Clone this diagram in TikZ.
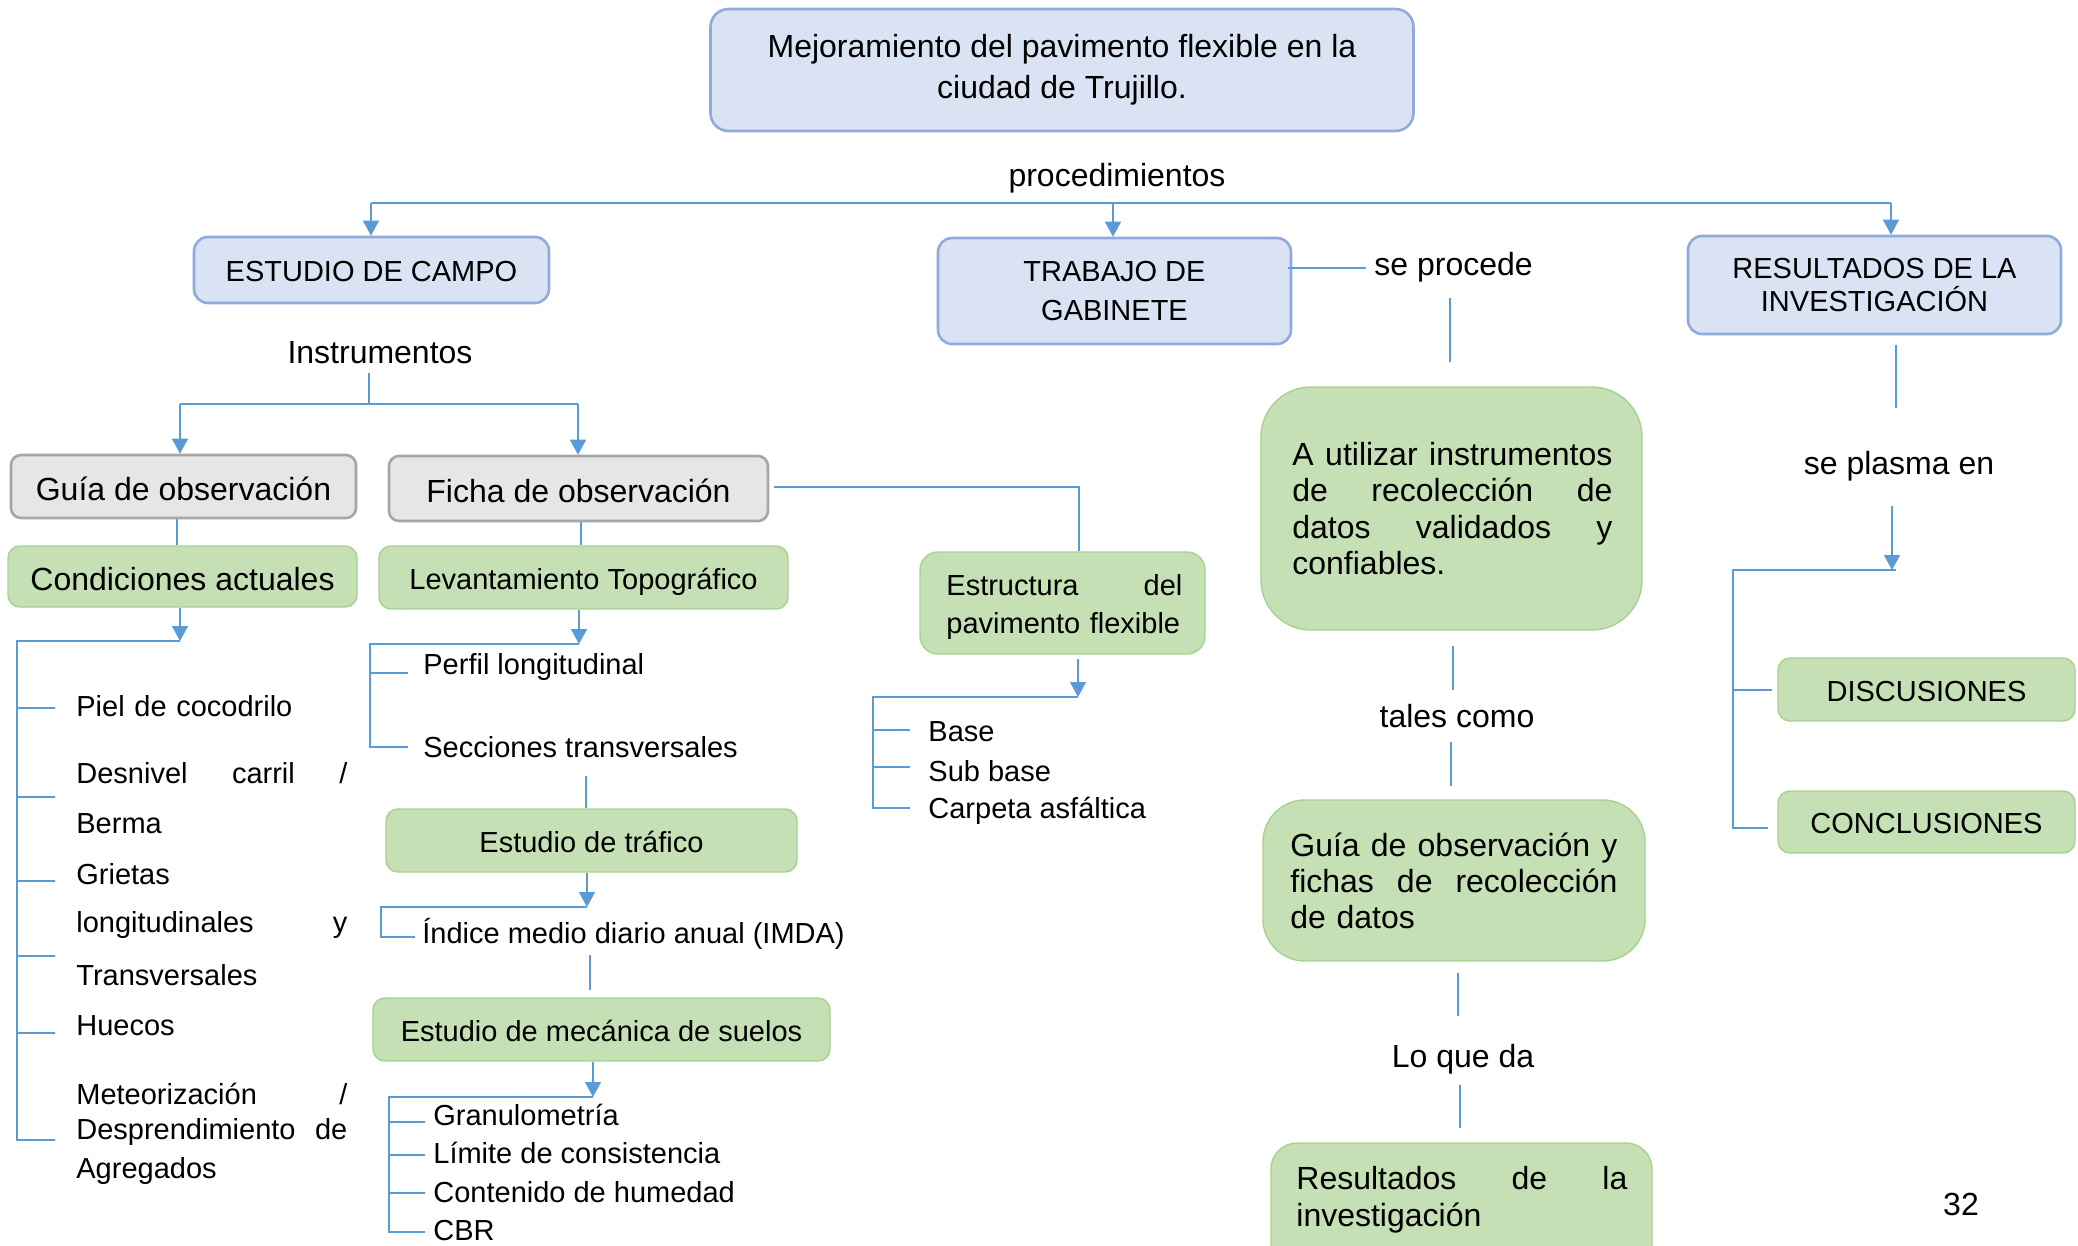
\documentclass[tikz,border=0pt]{standalone}
\usepackage{fontspec}
\setmainfont{Liberation Sans}
\usetikzlibrary{arrows.meta}
\definecolor{lnblue}{HTML}{5B9BD5}
\definecolor{bfill}{HTML}{DAE3F3}
\definecolor{bdraw}{HTML}{8FAADC}
\definecolor{gfill}{HTML}{E7E6E6}
\definecolor{gdraw}{HTML}{A6A6A6}
\definecolor{grfill}{HTML}{C5E0B4}
\definecolor{grdraw}{HTML}{A9D18E}
\newcommand{\fbig}{\fontsize{16}{18.25}\selectfont}
\newcommand{\fsml}{\fontsize{14.5}{17}\selectfont}
\begin{document}
\begin{tikzpicture}[x=0.5pt,y=-0.5pt,
  bbox/.style={draw=bdraw,fill=bfill,line width=1.3pt,rounded corners=7pt,inner sep=0pt},
  gbox/.style={draw=gdraw,fill=gfill,line width=1.3pt,rounded corners=5pt,inner sep=0pt},
  grbox/.style={draw=grdraw,fill=grfill,line width=0.7pt,rounded corners=6pt,inner sep=0pt},
  oneb/.style={font=\fbig,text height=13.5pt,text depth=0pt},
  ones/.style={font=\fsml,text height=11.5pt,text depth=0pt},
  conn/.style={draw=lnblue,line width=0.75pt},
  arr/.style={conn,-{Triangle[width=8pt,length=7.5pt]}},
  lbl/.style={font=\fbig,inner sep=0pt,yshift=-1.2pt},
  itm/.style={font=\fsml,inner sep=0pt,anchor=west,yshift=-0.5pt},
  lst/.style={font=\fsml,inner sep=0pt,anchor=west,text width=135.5pt,align=left},
  jb/.style={inner sep=0pt,anchor=base west,align=left}]
\fill[white] (0,0) rectangle (2078,1246);
\useasboundingbox (0,0) rectangle (2078,1246);

% ---------- top ----------
\node[bbox,rounded corners=9pt,minimum width=351.5pt,minimum height=61pt,align=center,font={\fontsize{16}{20.5}\selectfont}] (top) at (1062,70) {Mejoramiento del pavimento flexible en la\\ciudad de Trujillo.};
\node[lbl] (proc) at (1117,176) {procedimientos};
\node[bbox,ones,minimum width=177.5pt,minimum height=33pt] (ec) at (371.5,270) {ESTUDIO DE CAMPO};
\node[bbox,minimum width=176.5pt,minimum height=53pt,align=center,font={\fontsize{14.5}{19.5}\selectfont}] (tg) at (1114.5,291) {TRABAJO DE\\GABINETE};
\node[bbox,minimum width=186.5pt,minimum height=49pt,align=center,font={\fontsize{14.5}{16.5}\selectfont}] (ri) at (1874.5,285) {RESULTADOS DE LA\\INVESTIGACIÓN};

\coordinate (h1) at (371,203);
\coordinate (h2) at (1113,203);
\coordinate (h3) at (1891,203);
\draw[conn] (h1) -- (h3);
\draw[arr] (h1) -- (h1 |- ec.north);
\draw[arr] (h2) -- (h2 |- tg.north);
\draw[arr] (h3) -- (h3 |- ri.north);

% ---------- trabajo de gabinete branch ----------
\node[lbl,anchor=west] (sp) at (1374,265) {se procede};
\coordinate (sp1) at (1288,268);
\draw[conn,shorten >=4pt] (sp1) -- (sp1 -| sp.west);
\coordinate (v1a) at (1450,298); \coordinate (v1b) at (1450,362);
\draw[conn] (v1a) -- (v1b);
\node[grbox,rounded corners=25pt,minimum width=190.5pt,minimum height=121.5pt] (au) at (1451.5,508.5) {};
\node[jb,text width=160pt,font={\fontsize{16}{18.25}\selectfont}] (aut) at (1292,465) {A\hfill utilizar\hfill instrumentos\\de\hfill recolección\hfill de\\datos\hfill validados\hfill y\\confiables.};
\coordinate (v2a) at (1453,646); \coordinate (v2b) at (1453,690);
\draw[conn] (v2a) -- (v2b);
\node[lbl] (tc) at (1457,714) {tales como};
\coordinate (v3a) at (1451,742); \coordinate (v3b) at (1451,786);
\draw[conn] (v3a) -- (v3b);
\node[grbox,rounded corners=21pt,minimum width=191pt,minimum height=80.5pt] (gr) at (1454,880.5) {};
\node[jb,text width=163.5pt,font={\fontsize{16}{18}\selectfont}] (grt) at (1290,856) {Guía\hfill de\hfill observación\hfill y\\fichas\hfill de\hfill recolección\\de datos};
\coordinate (v4a) at (1458,973); \coordinate (v4b) at (1458,1016);
\draw[conn] (v4a) -- (v4b);
\node[lbl] (lq) at (1463,1057) {Lo que da};
\coordinate (v5a) at (1460,1085); \coordinate (v5b) at (1460,1128);
\draw[conn] (v5a) -- (v5b);
\node[grbox,rounded corners=13pt,minimum width=190.5pt,minimum height=65pt] (rs) at (1461.5,1208) {};
\node[jb,text width=165.5pt,font={\fontsize{16}{18.5}\selectfont}] (rst) at (1296,1189) {Resultados\hfill de\hfill la\\investigación};
\node[lbl] (pg) at (1961,1202) {32};

% ---------- resultados branch ----------
\coordinate (v6a) at (1896,345); \coordinate (v6b) at (1896,408);
\draw[conn] (v6a) -- (v6b);
\node[lbl] (pl) at (1899,464) {se plasma en};
\coordinate (r0) at (1892,506); \coordinate (b6) at (1892,570);
\draw[arr] (r0) -- (b6);
\node[grbox,ones,minimum width=148.5pt,minimum height=31.5pt] (di) at (1926.5,689.5) {DISCUSIONES};
\node[grbox,ones,minimum width=148.5pt,minimum height=31pt] (co) at (1926.5,822) {CONCLUSIONES};
\draw[conn] (1896,570) -| (1733,828) -- (1768,828);
\draw[conn] (1733,690) -- (1772,690);

% ---------- estudio de campo branch ----------
\node[lbl] (ins) at (380,350) {Instrumentos};
\coordinate (i0) at (180,404); \coordinate (i1) at (369,404); \coordinate (i2) at (578,404);
\coordinate (i3) at (369,373);
\draw[conn] (i3) -- (i1);
\draw[conn] (i0) -- (i2);
\node[gbox,oneb,minimum width=172.5pt,minimum height=31.5pt] (gg) at (183.5,486.5) {Guía de observación};
\node[gbox,oneb,minimum width=189.5pt,minimum height=32.5pt] (fo) at (578.5,488.5) {Ficha de observación};
\draw[arr] (i0) -- (i0 |- gg.north);
\draw[arr] (i2) -- (i2 |- fo.north);
\node[grbox,oneb,minimum width=174.5pt,minimum height=30.5pt] (cond) at (182.5,576.5) {Condiciones actuales};
\node[grbox,ones,minimum width=204.5pt,minimum height=31.5pt] (lev) at (583.5,577.5) {Levantamiento Topográfico};
\coordinate (g1) at (177,518);
\draw[conn] (g1 |- gg.south) -- (g1 |- cond.north);
\coordinate (f1) at (581,521);
\draw[conn] (f1 |- fo.south) -- (f1 |- lev.north);

% estructura
\node[grbox,rounded corners=9pt,minimum width=142.5pt,minimum height=51pt] (est) at (1062.5,603) {};
\node[jb,text width=118pt,font={\fontsize{14.5}{19}\selectfont}] (estt) at (946,595) {Estructura\hfill del\\pavimento flexible};
\coordinate (e1) at (1079,487);
\draw[conn,shorten <=2.5pt] (fo.east |- e1) -- (e1) -- (e1 |- est.north);
\coordinate (b5) at (1078,697); \coordinate (e2) at (1078,659);
\draw[arr] (e2) -- (b5);
\draw[conn] (b5) -| (873,808) -- (910,808);
\foreach \yy in {730,767} \draw[conn] (873,\yy) -- (910,\yy);
\node[itm] (ba) at (928,731) {Base};
\node[itm] (sb) at (928,770) {Sub base};
\node[itm] (ca) at (928,810) {Carpeta asfáltica};

% condiciones actuales list
\coordinate (b1) at (180,641);
\draw[arr] (b1 |- cond.south) -- (b1);
\draw[conn] (b1) -| (17,1140) -- (55,1140);
\foreach \yy in {708,797,881,956,1033} \draw[conn] (17,\yy) -- (55,\yy);
\node[lst] (l1) at (76,706) {Piel de cocodrilo};
\node[lst] (l2) at (76,773) {Desnivel\hfill carril\hfill /};
\node[lst] (l3) at (76,824) {Berma};
\node[lst] (l4) at (76,874) {Grietas};
\node[lst] (l5) at (76,925) {longitudinales\hfill y};
\node[lst] (l6) at (76,975) {Transversales};
\node[lst] (l7) at (76,1026) {Huecos};
\node[lst] (l8) at (76,1094) {Meteorización\hfill /};
\node[lst] (l9) at (76,1132) {Desprendimiento\hfill de};
\node[lst] (l10) at (76,1171) {Agregados};

% levantamiento list
\coordinate (b2) at (579,644);
\draw[arr] (b2 |- lev.south) -- (b2);
\draw[conn] (b2) -| (370,747) -- (408,747);
\draw[conn] (370,673) -- (408,673);
\node[itm] (pf) at (423,666) {Perfil longitudinal};
\node[itm] (st) at (423,746) {Secciones transversales};
\node[grbox,ones,minimum width=205.5pt,minimum height=31.5pt] (tra) at (591.5,840.5) {Estudio de tráfico};
\coordinate (t0) at (586,776);
\draw[conn] (t0) -- (t0 |- tra.north);
\coordinate (b3) at (587,907);
\draw[arr] (b3 |- tra.south) -- (b3);
\draw[conn] (b3) -| (381,937) -- (415,937);
\node[itm] (imda) at (422,933) {Índice medio diario anual (IMDA)};
\node[grbox,ones,minimum width=228.5pt,minimum height=31.5pt] (mec) at (601.5,1029.5) {Estudio de mecánica de suelos};
\coordinate (m0) at (590,955);
\draw[conn] (m0) -- ([yshift=3.5pt]m0 |- mec.north);
\coordinate (b4) at (593,1097);
\draw[arr] (b4 |- mec.south) -- (b4);
\draw[conn] (b4) -| (389,1232) -- (425,1232);
\foreach \yy in {1122,1155,1193} \draw[conn] (389,\yy) -- (425,\yy);
\node[itm] (gm) at (433,1114) {Granulometría};
\node[itm] (lc) at (433,1152) {Límite de consistencia};
\node[itm] (ch) at (433,1191) {Contenido de humedad};
\node[itm] (cb) at (433,1230) {CBR};
\end{tikzpicture}
\end{document}
